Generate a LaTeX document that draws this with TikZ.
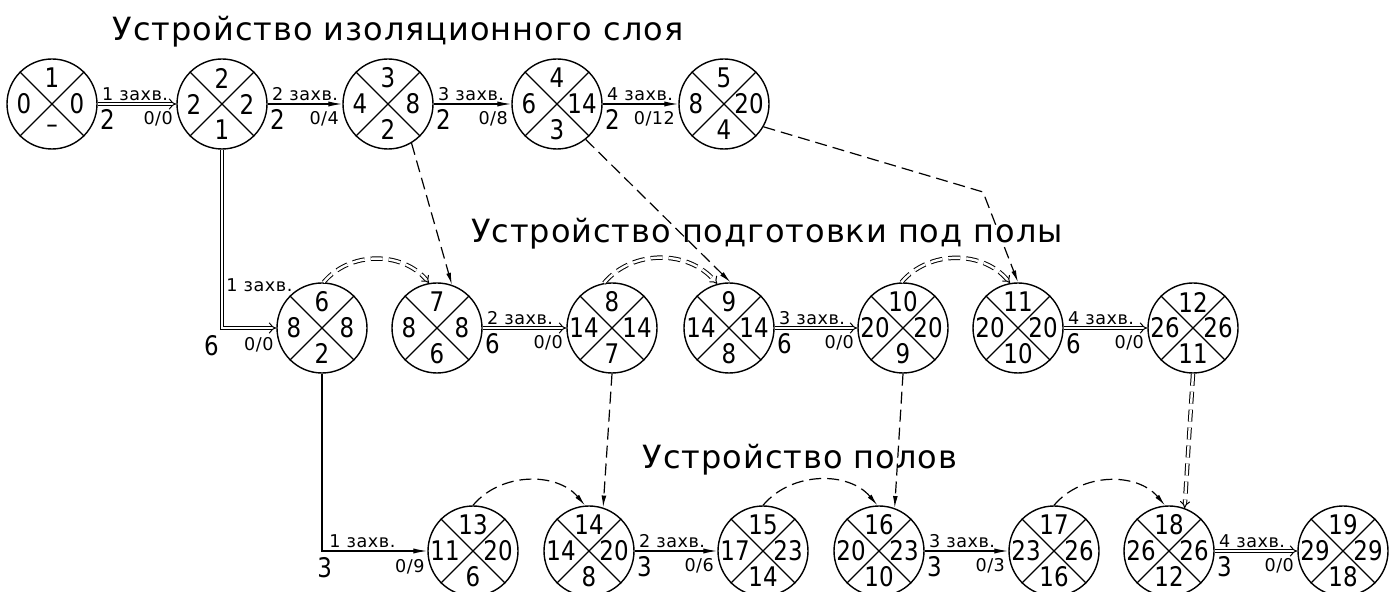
\documentclass[tikz,border=0pt]{standalone}
\usepackage{fontspec}
\setmainfont{DejaVu Sans}
\newfontfamily\numfont{DejaVu Sans}[FakeStretch=0.85]
\newfontfamily\titlefont{DejaVu Sans}[LetterSpace=3]
\newfontfamily\lblfont{DejaVu Sans}[LetterSpace=3]
\usetikzlibrary{arrows.meta,calc}

\tikzset{
  evc/.style={circle, draw, minimum size=45pt, inner sep=0pt, line width=0.7pt},
  xl/.style={line width=0.55pt},
  num/.style={font=\numfont\fontsize{13.5}{14}\selectfont, inner sep=0pt},
  lbl/.style={font=\lblfont\fontsize{8.8}{9}\selectfont, inner sep=0pt},
  big/.style={font=\numfont\fontsize{13.5}{14}\selectfont, inner sep=0pt},
  ttl/.style={font=\titlefont\fontsize{16}{18}\selectfont, inner sep=0pt},
  work/.style={line width=0.6pt, -{Latex[length=7pt,width=2.6pt]}},
  crit/.style={line width=0.5pt, double, double distance=1.4pt, -Implies},
  dep/.style={line width=0.6pt, dash pattern=on 6pt off 3pt, -{Latex[length=6pt,width=2.4pt]}},
  ddep/.style={line width=0.5pt, double, double distance=1.2pt, dash pattern=on 6pt off 3pt, -Implies},
}

\newcommand\ev[6]{%
  \node[evc] (#1) at (#2) {};
  \draw[xl] (#1.45) -- (#1.225) (#1.135) -- (#1.315);
  \node[num] (#1t) at ([yshift=13pt]#1.center) {#3};
  \node[num] (#1l) at ([xshift=-14pt]#1.center) {#4};
  \node[num] (#1r) at ([xshift=12.5pt]#1.center) {#5};
  \node[num] (#1b) at ([yshift=-12.8pt]#1.center) {#6};
}
\newcommand\he[6]{%
  \draw[#1] (#2.east) -- (#3.west);
  \node[lbl, anchor=south west] (#2#3k) at ([xshift=2pt,yshift=1.5pt]#2.east) {#4 захв.};
  \node[big, anchor=north west] (#2#3d) at ([xshift=1pt,yshift=-2.5pt]#2.east) {#5};
  \node[lbl, anchor=north east] (#2#3f) at ([xshift=-1.5pt,yshift=-3.5pt]#3.west) {#6};
}

\begin{document}
\begin{tikzpicture}[x=0.5pt,y=-0.5pt]
\useasboundingbox (0,0) rectangle (1397,592);

% titles
\node[ttl] (t1) at (398,32) {Устройство изоляционного слоя};
\node[ttl] (t2) at (767,234) {Устройство подготовки под полы};
\node[ttl] (t3) at (800,460) {Устройство полов};

% events
\ev{e1}{52,104}{1}{0}{0}{–}
\ev{e2}{222,104}{2}{2}{2}{1}
\ev{e3}{388,104}{3}{4}{8}{2}
\ev{e4}{557,104}{4}{6}{14}{3}
\ev{e5}{724,104}{5}{8}{20}{4}

\ev{e6}{322,328}{6}{8}{8}{2}
\ev{e7}{437,328}{7}{8}{8}{6}
\ev{e8}{612,328}{8}{14}{14}{7}
\ev{e9}{729,328}{9}{14}{14}{8}
\ev{e10}{903,328}{10}{20}{20}{9}
\ev{e11}{1018,328}{11}{20}{20}{10}
\ev{e12}{1193,328}{12}{26}{26}{11}

\ev{e13}{473,551}{13}{11}{20}{6}
\ev{e14}{589,551}{14}{14}{20}{8}
\ev{e15}{763,551}{15}{17}{23}{14}
\ev{e16}{879,551}{16}{20}{23}{10}
\ev{e17}{1054,551}{17}{23}{26}{16}
\ev{e18}{1169,551}{18}{26}{26}{12}
\ev{e19}{1343,551}{19}{29}{29}{18}

% top row works
\he{crit}{e1}{e2}{1}{2}{0/0}
\he{work}{e2}{e3}{2}{2}{0/4}
\he{work}{e3}{e4}{3}{2}{0/8}
\he{work}{e4}{e5}{4}{2}{0/12}

% middle row works
\draw[crit] (e2.south) |- (e6.west);
\node[lbl, anchor=south west] (e2e6k) at (226,292) {1 захв.};
\node[big, anchor=north east] (e2e6d) at (219,335) {6};
\node[lbl, anchor=north east] (e2e6f) at (274,337) {0/0};
\he{crit}{e7}{e8}{2}{6}{0/0}
\he{crit}{e9}{e10}{3}{6}{0/0}
\he{crit}{e11}{e12}{4}{6}{0/0}

% bottom row works
\draw[work] (e6.south) |- (e13.west);
\node[lbl, anchor=south west] (e6e13k) at (329,548) {1 захв.};
\node[big, anchor=north west] (e6e13d) at (317,557) {3};
\node[lbl, anchor=north east] (e6e13f) at (425,559) {0/9};
\he{work}{e14}{e15}{2}{3}{0/6}
\he{work}{e16}{e17}{3}{3}{0/3}
\he{crit}{e18}{e19}{4}{3}{0/0}

% dependencies between rows
\coordinate (b5) at (983,192);
\draw[dep] (e3.-59) -- (e7.71);
\draw[dep] (e4.-51) -- (e9.88);
\draw[dep] (e5.-30) -- (b5) -- (e11.90);
\draw[dep] (e8.-90) -- (e14.72);
\draw[dep] (e10.-90) -- (e16.70);
\draw[ddep] (e12.-90) -- (e18.70);

% resource arcs
\draw[ddep] (e6.88) to[out=50,in=130] (e7.100);
\draw[ddep] (e8.100) to[out=50,in=130] (e9.105);
\draw[ddep] (e10.92) to[out=50,in=130] (e11.100);
\draw[dep] (e13.90) to[out=50,in=130] (e14.95);
\draw[dep] (e15.90) to[out=50,in=130] (e16.92);
\draw[dep] (e17.90) to[out=50,in=130] (e18.95);
\end{tikzpicture}
\end{document}
